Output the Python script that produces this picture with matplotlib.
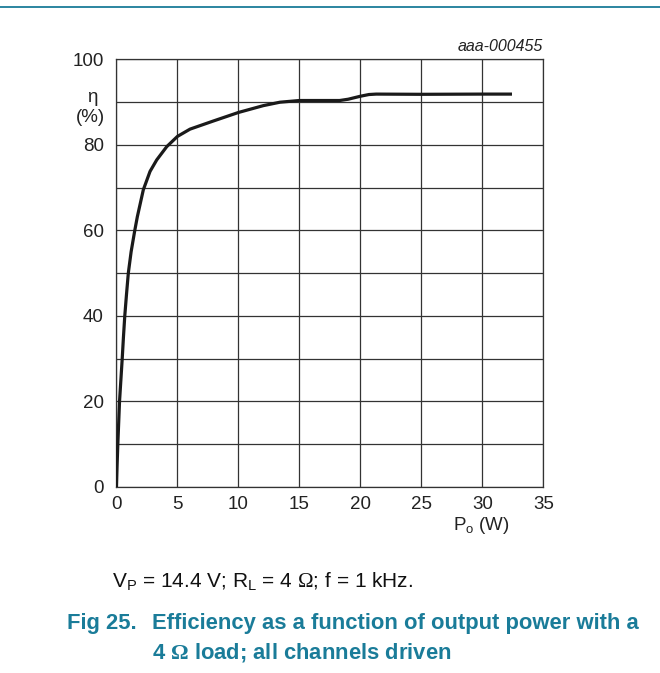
import numpy as np
import matplotlib
matplotlib.use("Agg")
import matplotlib.pyplot as plt
from matplotlib.lines import Line2D

plt.rcParams['font.family'] = ['Liberation Sans', 'DejaVu Sans']
plt.rcParams['mathtext.fontset'] = 'custom'
plt.rcParams['mathtext.rm'] = 'Liberation Sans'
plt.rcParams['mathtext.it'] = 'Liberation Sans:italic'
plt.rcParams['mathtext.sf'] = 'Liberation Serif'
plt.rcParams['mathtext.bf'] = 'Liberation Serif:bold'

TEAL = '#1a7c99'

# efficiency curve
po_w = [0, 0.05, 0.11, 0.18, 0.25, 0.36, 0.47, 0.57, 0.68, 0.82, 0.97, 1.2, 1.5,
        1.71, 2.2, 2.75, 3.3, 4.12, 5.0, 6.03, 7.94, 10.0, 12.04, 13.4, 15.0,
        17.5, 18.3, 19.0, 20.0, 20.7, 21.3, 25.0, 30.0, 32.3]
eta_pct = [0, 5, 10, 15, 20, 25, 30, 35, 40, 45, 50, 55, 60,
           63.2, 69.5, 73.8, 76.5, 79.6, 82.0, 83.7, 85.6, 87.6, 89.2, 90.0, 90.4,
           90.4, 90.4, 90.7, 91.4, 91.8, 91.9, 91.85, 91.9, 91.9]

x_ticks = [0, 5, 10, 15, 20, 25, 30, 35]
y_ticks = [0, 20, 40, 60, 80, 100]

fig = plt.figure(figsize=(6.6, 6.73), dpi=100)
ax = fig.add_axes([0.1765, 0.2768, 0.6467, 0.6348])

ax.plot(po_w, eta_pct, color='#1a1a1a', lw=2.3, solid_joinstyle='round', zorder=3)

ax.set_xlim(0, 35)
ax.set_ylim(0, 100)
ax.set_xticks(x_ticks)
ax.set_yticks(y_ticks)
ax.set_yticks(np.arange(10, 100, 20), minor=True)
ax.grid(True, which='both', color='#333333', lw=0.9)
ax.tick_params(which='both', length=0, labelsize=13.5, colors='#222222')
ax.tick_params(axis='y', pad=9)
ax.tick_params(axis='x', pad=7)
for s in ax.spines.values():
    s.set_color('#333333')
    s.set_linewidth(0.9)

ax.text(1.0, 1.012, 'aaa-000455', transform=ax.transAxes, ha='right', va='bottom',
        fontsize=11.5, style='italic', color='#222222')
fig.text(92 / 660, 1 - 97 / 673, 'η', ha='center', va='center', fontsize=13.5, color='#222222')
fig.text(90 / 660, 1 - 117 / 673, '(%)', ha='center', va='center', fontsize=13.5, color='#222222')
fig.text(481 / 660, 1 - 526 / 673, r'P$_\mathrm{o}$ (W)', ha='center', va='center',
         fontsize=13.5, color='#222222')

fig.text(112 / 660, 1 - 582 / 673,
         r'V$_\mathrm{P}$ = 14.4 V; R$_\mathrm{L}$ = 4 $\mathsf{Ω}$; f = 1 kHz.',
         ha='left', va='center', fontsize=15, color='#111111')
fig.text(67 / 660, 1 - 623 / 673, 'Fig 25.', ha='left', va='center', fontsize=15.8,
         fontweight='bold', color=TEAL)
fig.text(152 / 660, 1 - 623 / 673, 'Efficiency as a function of output power with a',
         ha='left', va='center', fontsize=15.8, fontweight='bold', color=TEAL)
fig.text(152 / 660, 1 - 652 / 673, r'4 $\mathbf{Ω}$ load; all channels driven',
         ha='left', va='center', fontsize=15.8, fontweight='bold', color=TEAL)

fig.add_artist(Line2D([0, 1], [1 - 7 / 673, 1 - 7 / 673], transform=fig.transFigure,
                      color=TEAL, lw=1.3))

fig.savefig('out.png', dpi=100)
